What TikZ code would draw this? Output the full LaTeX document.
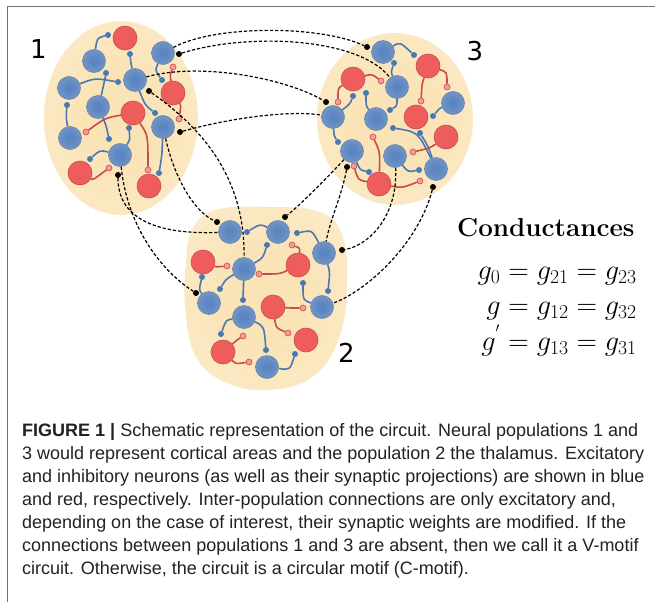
\documentclass[tikz,border=0pt]{standalone}
\usepackage{graphicx}
\usepackage{fontspec}
\newfontfamily\capfont{Liberation Sans}
\newfontfamily\labfont{DejaVu Sans}
\definecolor{bfin}{HTML}{5C86C2}
\definecolor{bfout}{HTML}{93AAC6}
\definecolor{bdrawc}{HTML}{6A88AE}
\definecolor{rfin}{HTML}{EE5C5C}
\definecolor{rfout}{HTML}{F27A7A}
\definecolor{rdrawc}{HTML}{C84848}
\definecolor{blinec}{HTML}{4A78B5}
\definecolor{rlinec}{HTML}{C84B4B}
\definecolor{rdotc}{HTML}{F59A9A}
\definecolor{popin}{HTML}{FAE3B5}
\definecolor{popout}{HTML}{FDF2DA}
\definecolor{framec}{HTML}{707070}
\definecolor{capc}{HTML}{222222}
\pgfdeclareradialshading{bneuron}{\pgfpoint{0bp}{0bp}}{color(0bp)=(bfin); color(8bp)=(bfin); color(50bp)=(bfout); color(80bp)=(bfout)}
\pgfdeclareradialshading{rneuron}{\pgfpoint{0bp}{0bp}}{color(0bp)=(rfin); color(20bp)=(rfin); color(50bp)=(rfout); color(80bp)=(rfout)}
\pgfdeclareradialshading{popsh}{\pgfpoint{0bp}{0bp}}{color(0bp)=(popin); color(10bp)=(popin); color(50bp)=(popout); color(80bp)=(popout)}
\tikzset{
  bn/.style={circle, minimum size=23pt, inner sep=0pt, draw=bdrawc, line width=0.6pt, shading=bneuron},
  rn/.style={circle, minimum size=24pt, inner sep=0pt, draw=rdrawc, line width=0.6pt, shading=rneuron},
  bdot/.style={circle, fill=blinec, minimum size=6pt, inner sep=0pt},
  rdot/.style={circle, fill=rdotc, draw=rlinec, line width=0.6pt, minimum size=6pt, inner sep=0pt},
  kdot/.style={circle, fill=black, minimum size=6pt, inner sep=0pt},
  bc/.style={draw=blinec, line width=1.6pt},
  rc/.style={draw=rlinec, line width=1.6pt},
  dl/.style={draw=black, line width=1.2pt, dash pattern=on 3.2pt off 2pt},
  poplabel/.style={inner sep=0pt, font=\labfont\fontsize{26}{26}\selectfont},
  capline/.style={anchor=base west, inner sep=0pt, text=capc, font=\capfont\fontsize{18}{22}\selectfont},
}
\begin{document}
\begin{tikzpicture}[x=1pt,y=-1pt]
\useasboundingbox (0,0) rectangle (655,602);
\fill[white] (0,0) rectangle (655,602);
% frame
\draw[framec, line width=1.5pt] (7.5,602) -- (7.5,6.5) -- (655,6.5);
% population backgrounds
\shade[shading=popsh] (121,118) ellipse [x radius=77pt, y radius=97pt];
\shade[shading=popsh] (395,119) ellipse [x radius=78pt, y radius=86pt];
\shade[shading=popsh] plot[smooth cycle, tension=0.7] coordinates {(192,230) (215,210) (270,207) (320,212) (342,235) (347,280) (340,335) (315,375) (270,390) (225,382) (195,355) (185,305) (186,262)};
% labels
\node[poplabel] (l1) at (38.5,49.5) {1};
\node[poplabel] (l3) at (475,51.5) {3};
\node[poplabel] (l2) at (346.5,352.5) {2};
% ---------------- population 1
\node[bn] (a1) at (94,61) {};
\node[bn] (a2) at (163,53) {};
\node[bn] (a3) at (69,88) {};
\node[bn] (a4) at (135,80) {};
\node[bn] (a5) at (98,107) {};
\node[bn] (a6) at (70,138) {};
\node[bn] (a7) at (163,127) {};
\node[bn] (a8) at (120,155) {};
\node[rn] (ar1) at (125,38) {};
\node[rn] (ar2) at (173,93) {};
\node[rn] (ar3) at (133,113) {};
\node[rn] (ar4) at (80,173) {};
\node[rn] (ar5) at (149,186) {};
\node[bdot] (ad1) at (108,35) {};
\node[bdot] (ad2) at (130,54) {};
\node[bdot] (ad3) at (118,82) {};
\node[bdot] (ad4) at (106,73) {};
\node[bdot] (ad5) at (67,105) {};
\node[bdot] (ad6) at (109,139) {};
\node[bdot] (ad7) at (129,128) {};
\node[bdot] (ad8) at (90,159) {};
\node[bdot] (ad9) at (159,173) {};
\node[bdot] (ad10) at (155,113) {};
\node[bdot] (ad11) at (162,80) {};
\node[rdot] (ard1) at (86,132) {};
\node[rdot] (ard2) at (109,168) {};
\node[rdot] (ard3) at (148,170) {};
\node[rdot] (ard4) at (173,67) {};
\node[rdot] (ard5) at (179,119) {};
\node[kdot] (ak1) at (179,54) {};
\node[kdot] (ak2) at (149,91) {};
\node[kdot] (ak3) at (180,132) {};
\node[kdot] (ak4) at (118,175) {};
\draw[bc] (a1) .. controls (97,38) .. (ad1);
\draw[bc] (a4) .. controls (131,64) .. (ad2);
\draw[bc] (a3) .. controls (95,78) .. (ad3);
\draw[bc] (a5) .. controls (104,86) .. (ad4);
\draw[bc] (a6) .. controls (66,118) .. (ad5);
\draw[bc] (a5) .. controls (106,125) .. (ad6);
\draw[bc] (a8) .. controls (130,140) .. (ad7);
\draw[bc] (a8) .. controls (100,150) .. (ad8);
\draw[bc] (a7) .. controls (162,155) .. (ad9);
\draw[bc] (a4) .. controls (145,105) .. (ad10);
\draw[bc] (a2) .. controls (155,70) .. (ad11);
\draw[rc] (ar3) .. controls (105,118) .. (ard1);
\draw[rc] (ar4) .. controls (93,180) .. (ard2);
\draw[rc] (ar3) .. controls (148,135) .. (ard3);
\draw[rc] (ar2) .. controls (170,75) .. (ard4);
\draw[rc] (ar2) .. controls (181,105) .. (ard5);
% ---------------- population 3
\node[bn] (c1) at (383,52) {};
\node[bn] (c2) at (397,87) {};
\node[bn] (c3) at (453,103) {};
\node[bn] (c4) at (333,117) {};
\node[bn] (c5) at (376,119) {};
\node[bn] (c6) at (352,151) {};
\node[bn] (c7) at (395,156) {};
\node[bn] (c8) at (436,169) {};
\node[rn] (cr1) at (428,66) {};
\node[rn] (cr2) at (353,79) {};
\node[rn] (cr3) at (416,117) {};
\node[rn] (cr4) at (446,137) {};
\node[rn] (cr5) at (379,184) {};
\node[bdot] (cd1) at (414,55) {};
\node[bdot] (cd2) at (394,63) {};
\node[bdot] (cd3) at (353,96) {};
\node[bdot] (cd4) at (366,93) {};
\node[bdot] (cd5) at (390,110) {};
\node[bdot] (cd6) at (433,116) {};
\node[bdot] (cd7) at (393,128) {};
\node[bdot] (cd8) at (420,133) {};
\node[bdot] (cd9) at (338,142) {};
\node[bdot] (cd10) at (369,172) {};
\node[bdot] (cd11) at (419,170) {};
\node[rdot] (crd1) at (381,81) {};
\node[rdot] (crd2) at (338,102) {};
\node[rdot] (crd3) at (421,101) {};
\node[rdot] (crd4) at (447,87) {};
\node[rdot] (crd5) at (413,152) {};
\node[rdot] (crd6) at (373,137) {};
\node[rdot] (crd7) at (354,166) {};
\node[rdot] (crd8) at (420,181) {};
\node[kdot] (ck1) at (367,47) {};
\node[kdot] (ck2) at (326,102) {};
\node[kdot] (ck3) at (347,167) {};
\node[kdot] (ck4) at (433,187) {};
\draw[bc] (c1) .. controls (400,42) .. (cd1);
\draw[bc] (c2) .. controls (391,72) .. (cd2);
\draw[bc] (c4) .. controls (350,104) .. (cd3);
\draw[bc] (c5) .. controls (366,106) .. (cd4);
\draw[bc] (c2) .. controls (397,106) .. (cd5);
\draw[bc] (c3) .. controls (440,108) .. (cd6);
\draw[bc] (c8) .. controls (418,132) .. (cd7);
\draw[bc] (c8) .. controls (428,146) .. (cd8);
\draw[bc] (c4) .. controls (334,136) .. (cd9);
\draw[bc] (c6) .. controls (360,170) .. (cd10);
\draw[bc] (c7) .. controls (408,172) .. (cd11);
\draw[rc] (cr2) .. controls (372,74) .. (crd1);
\draw[rc] (cr2) .. controls (338,88) .. (crd2);
\draw[rc] (cr1) .. controls (422,84) .. (crd3);
\draw[rc] (cr1) .. controls (447,72) .. (crd4);
\draw[rc] (cr4) .. controls (430,148) .. (crd5);
\draw[rc] (cr5) .. controls (380,152) .. (crd6);
\draw[rc] (cr5) .. controls (358,180) .. (crd7);
\draw[rc] (cr5) .. controls (402,188) .. (crd8);
% ---------------- population 2
\node[bn] (b1) at (230,232) {};
\node[bn] (b2) at (278,232) {};
\node[bn] (b3) at (324,253) {};
\node[bn] (b4) at (244,269) {};
\node[bn] (b5) at (209,303) {};
\node[bn] (b6) at (322,307) {};
\node[bn] (b7) at (244,317) {};
\node[bn] (b8) at (267,367) {};
\node[rn] (br1) at (203,262) {};
\node[rn] (br2) at (298,265) {};
\node[rn] (br3) at (273,307) {};
\node[rn] (br4) at (223,352) {};
\node[rn] (br5) at (306,340) {};
\node[bdot] (bd1) at (247,232) {};
\node[bdot] (bd2) at (297,233) {};
\node[bdot] (bd3) at (267,245) {};
\node[bdot] (bd4) at (328,291) {};
\node[bdot] (bd5) at (303,283) {};
\node[bdot] (bd6) at (202,277) {};
\node[bdot] (bd7) at (220,289) {};
\node[bdot] (bd8) at (243,300) {};
\node[bdot] (bd9) at (221,334) {};
\node[bdot] (bd10) at (266,350) {};
\node[bdot] (bd11) at (295,354) {};
\node[rdot] (brd1) at (292,245) {};
\node[rdot] (brd2) at (227,266) {};
\node[rdot] (brd3) at (259,274) {};
\node[rdot] (brd4) at (303,308) {};
\node[rdot] (brd5) at (288,333) {};
\node[rdot] (brd6) at (243,336) {};
\node[rdot] (brd7) at (249,362) {};
\node[kdot] (bk1) at (217,222) {};
\node[kdot] (bk2) at (196,293) {};
\node[kdot] (bk3) at (285,217) {};
\node[kdot] (bk4) at (342,250) {};
\draw[bc] (b2) .. controls (260,224) .. (bd1);
\draw[bc] (b3) .. controls (312,230) .. (bd2);
\draw[bc] (b4) .. controls (263,258) .. (bd3);
\draw[rc] (br2) .. controls (300,248) .. (brd1);
\draw[rc] (br1) .. controls (216,267) .. (brd2);
\draw[rc] (br2) .. controls (280,274) .. (brd3);
\draw[bc] (b3) .. controls (330,272) .. (bd4);
\draw[bc] (b6) .. controls (303,300) .. (bd5);
\draw[bc] (b5) .. controls (199,290) .. (bd6);
\draw[bc] (b4) .. controls (226,279) .. (bd7);
\draw[bc] (b4) -- (bd8);
\draw[rc] (br3) .. controls (290,308) .. (brd4);
\draw[rc] (br3) .. controls (276,328) .. (brd5);
\draw[bc] (b7) .. controls (226,320) .. (bd9);
\draw[rc] (br4) .. controls (237,340) .. (brd6);
\draw[rc] (br4) .. controls (236,364) .. (brd7);
\draw[bc] (b7) .. controls (264,326) .. (bd10);
\draw[bc] (b8) .. controls (290,370) .. (bd11);
% ---------------- inter-population connections
\draw[dl] (a2) .. controls (215,25) and (320,25) .. (ck1);
\draw[dl] (ak1) .. controls (250,32) and (360,38) .. (c2);
\draw[dl] (a4) .. controls (200,62) and (285,78) .. (ck2);
\draw[dl] (ak3) .. controls (230,118) and (290,110) .. (c4);
\draw[dl] (ak2) .. controls (205,130) and (245,180) .. (b4);
\draw[dl] (a7) .. controls (175,180) and (195,212) .. (bk1);
\draw[dl] (ak4) .. controls (118,215) and (150,235) .. (b1);
\draw[dl] (a8) .. controls (127,225) and (160,270) .. (bk2);
\draw[dl] (c6) .. controls (325,180) and (300,205) .. (bk3);
\draw[dl] (ck3) .. controls (342,195) and (330,220) .. (b3);
\draw[dl] (c7) .. controls (398,215) and (370,245) .. (bk4);
\draw[dl] (ck4) .. controls (418,245) and (365,292) .. (b6);
% ---------------- conductances
\node[anchor=base west, inner sep=0pt] (ctitle) at (457,236) {\fontsize{26}{30}\selectfont\bfseries Conductances};
\node[anchor=base east, inner sep=0pt] (eq1) at (637,279) {\fontsize{24}{28}\selectfont\scalebox{1.14}{$g_0 = g_{21} = g_{23}$}};
\node[anchor=base east, inner sep=0pt] (eq2) at (637,314) {\fontsize{24}{28}\selectfont\scalebox{1.14}{$g = g_{12} = g_{32}$}};
\node[anchor=base east, inner sep=0pt] (eq3) at (637,350) {\fontsize{24}{28}\selectfont\scalebox{1.14}{$g^{'} = g_{13} = g_{31}$}};
% ---------------- caption
\node[capline] (cap1) at (22,436) {\textbf{FIGURE 1 |} Schematic representation of the circuit. Neural populations 1 and};
\node[capline] (cap2) at (22,459) {3 would represent cortical areas and the population 2 the thalamus. Excitatory};
\node[capline] (cap3) at (22,482) {and inhibitory neurons (as well as their synaptic projections) are shown in blue};
\node[capline] (cap4) at (22,505) {and red, respectively. Inter-population connections are only excitatory and,};
\node[capline] (cap5) at (22,528) {depending on the case of interest, their synaptic weights are modified. If the};
\node[capline] (cap6) at (22,551) {connections between populations 1 and 3 are absent, then we call it a V-motif};
\node[capline] (cap7) at (22,574) {circuit. Otherwise, the circuit is a circular motif (C-motif).};
\end{tikzpicture}
\end{document}
